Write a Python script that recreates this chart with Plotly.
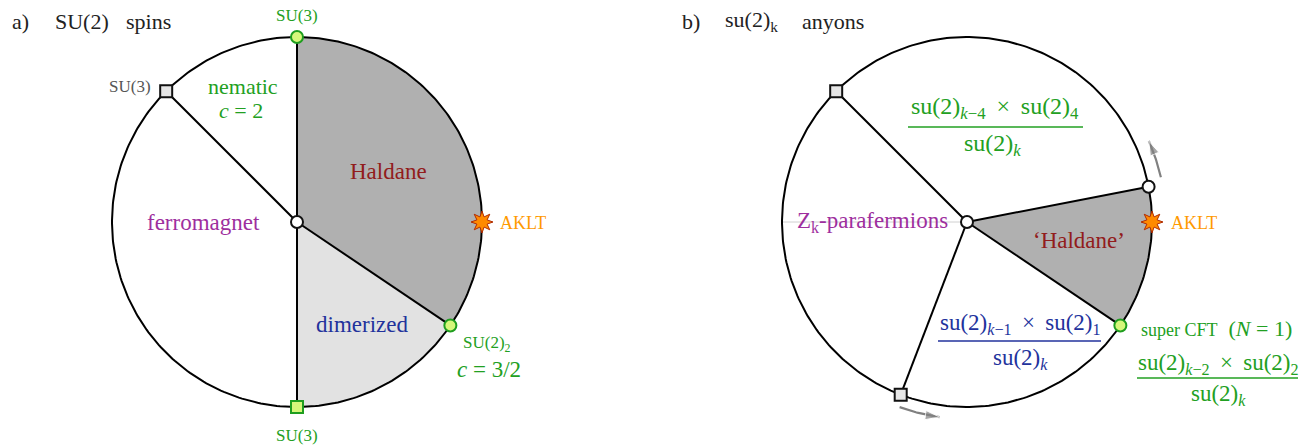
import numpy as np
import plotly.graph_objects as go

# ---------------- data ----------------
W, H = 1307, 445
R = 185
centers = {"a": (297, 222), "b": (967, 222)}

# panel a: phase-boundary directions (deg, counter-clockwise from +x)
a_rays = [90, 135, -90, -34]
a_haldane = (90, -34)
a_dimer = (-34, -90)
a_nodes_ang = [90, 135, -90, -34]
a_nodes_sym = ["circle", "square", "square", "circle"]
a_nodes_fill = ["#d6f77a", "#e6e6e6", "#d6f77a", "#d6f77a"]
a_nodes_line = ["#1f9e1f", "#111111", "#1f9e1f", "#1f9e1f"]
a_aklt = 0

# panel b
b_rays = [135, 11, -34, -111]
b_faint_ray = 180
b_haldane = (11, -34)
b_nodes_ang = [135, 11, -34, -111]
b_nodes_sym = ["square", "circle", "circle", "square"]
b_nodes_fill = ["#e6e6e6", "#ffffff", "#d6f77a", "#e6e6e6"]
b_nodes_line = ["#111111", "#111111", "#1f9e1f", "#111111"]
b_aklt = 0
b_arrows = [(199, 13, 24), (197, -110, -98)]  # (radius, start deg, end deg)

GREEN = "#22a022"
RED = "#921c1c"
PURPLE = "#9e2f9e"
BLUE = "#22329c"
ORANGE = "#ff9a00"
FONT = "Liberation Serif"
SP = "\u2009"  # thin space
NB = "\u00a0"


def pt(c, r, a):
    t = np.deg2rad(a)
    return c[0] + r * np.cos(t), c[1] - r * np.sin(t)


def arc(c, r, a0, a1, n=120):
    t = np.linspace(a0, a1, n)
    x, y = pt(c, r, t)
    return list(x), list(y)


fig = go.Figure()


def sector(c, a0, a1, color):
    x, y = arc(c, R, a0, a1)
    fig.add_trace(go.Scatter(x=[c[0]] + x + [c[0]], y=[c[1]] + y + [c[1]],
                             fill="toself", fillcolor=color, mode="none",
                             hoverinfo="skip", showlegend=False))


def line(xs, ys, color="#000000", width=2):
    fig.add_trace(go.Scatter(x=xs, y=ys, mode="lines",
                             line=dict(color=color, width=width),
                             hoverinfo="skip", showlegend=False))


def star(c, ang):
    px, py = pt(c, R, ang)
    k = np.arange(17)
    rr = np.where(k % 2 == 0, 11, 5.5)
    t = np.deg2rad(k * 22.5 + 90)
    fig.add_trace(go.Scatter(x=px + rr * np.cos(t), y=py - rr * np.sin(t),
                             fill="toself", fillcolor="#ff8a00", mode="lines",
                             line=dict(color="#b02a00", width=1),
                             hoverinfo="skip", showlegend=False))


def nodes(c, angs, syms, fills, lines):
    xs, ys = pt(c, R, np.array(angs, dtype=float))
    fig.add_trace(go.Scatter(x=list(xs) + [c[0]], y=list(ys) + [c[1]], mode="markers",
                             marker=dict(symbol=syms + ["circle"], size=12,
                                         color=fills + ["#ffffff"],
                                         line=dict(color=lines + ["#111111"], width=2)),
                             hoverinfo="skip", showlegend=False))


# ---- panel a ----
ca = centers["a"]
sector(ca, *a_haldane, "#b0b0b0")
sector(ca, *a_dimer, "#e2e2e2")
x, y = arc(ca, R, 0, 360, 360)
line(x, y)
for a in a_rays:
    px, py = pt(ca, R, a)
    line([ca[0], px], [ca[1], py])
star(ca, a_aklt)
nodes(ca, a_nodes_ang, a_nodes_sym, a_nodes_fill, a_nodes_line)

# ---- panel b ----
cb = centers["b"]
sector(cb, *b_haldane, "#b0b0b0")
px, py = pt(cb, R, b_faint_ray)
line([cb[0], px], [cb[1], py], color="#d0d0d0", width=1)
x, y = arc(cb, R, 0, 360, 360)
line(x, y)
for a in b_rays:
    px, py = pt(cb, R, a)
    line([cb[0], px], [cb[1], py])
star(cb, b_aklt)
for r, a0, a1 in b_arrows:
    x, y = arc(cb, r, a0, a1, 30)
    fig.add_trace(go.Scatter(x=x, y=y, mode="lines+markers",
                             line=dict(color="#808080", width=2.2),
                             marker=dict(symbol="arrow", angleref="previous",
                                         size=[0] * 29 + [15], color="#808080"),
                             hoverinfo="skip", showlegend=False))
nodes(cb, b_nodes_ang, b_nodes_sym, b_nodes_fill, b_nodes_line)

# fraction bars
for x0, x1, yy, col in [(908, 1083, 127, GREEN), (938, 1101, 341, BLUE), (1137, 1298, 378, GREEN)]:
    line([x0, x1], [yy, yy], color=col, width=1.5)

# ---------------- text ----------------
def txt(x, y, s, size, color, xanchor="center"):
    fig.add_annotation(x=x, y=y, text=s, showarrow=False, xanchor=xanchor, yanchor="middle",
                       font=dict(family=FONT, size=size, color=color))


TC = "#222222"
txt(10, 21, "a)", 22, TC, "left")
txt(53, 21, "SU(2)", 22, TC, "left")
txt(124, 21, "spins", 22, TC, "left")
txt(680, 21, "b)", 22, TC, "left")
txt(723, 21, "su(2)<sub>k</sub>", 22, TC, "left")
txt(800, 21, "anyons", 22, TC, "left")

txt(297, 15, "SU(3)", 17, GREEN)
txt(153, 86, "SU(3)", 17, "#555555", "right")
txt(243, 86, "nematic", 22, GREEN)
txt(241, 110, f"<i>c</i>{NB}={NB}2", 22, GREEN)
txt(388, 171, "Haldane", 23, RED)
txt(203, 222, "ferromagnet", 23, PURPLE)
txt(498, 223, "AKLT", 18, ORANGE, "left")
txt(362, 324, "dimerized", 23, BLUE)
txt(461, 344, "SU(2)<sub>2</sub>", 17, GREEN, "left")
txt(489, 369, f"<i>c</i>{NB}={NB}3/2", 23, GREEN)
txt(297, 435, "SU(3)", 17, GREEN)

mul = f"{NB}{SP}×{SP}{NB}"
txt(995, 108, f"su(2)<sub><i>k</i>−4</sub>{mul}su(2)<sub>4</sub>", 24, GREEN)
txt(992, 145, "su(2)<sub><i>k</i></sub>", 24, GREEN)
txt(872, 222, "Z<sub>k</sub>-parafermions", 23, PURPLE)
txt(1079, 240, "‘Haldane’", 23, RED)
txt(1169, 223, "AKLT", 18, ORANGE, "left")
txt(1020, 324, f"su(2)<sub><i>k</i>−1</sub>{mul}su(2)<sub>1</sub>", 23, BLUE)
txt(1020, 359, "su(2)<sub><i>k</i></sub>", 23, BLUE)
txt(1139, 328, f"<span style='font-size:18px'>super CFT</span>{NB}{NB}(<i>N</i>{NB}={NB}1)", 22, GREEN, "left")
txt(1218, 364, f"su(2)<sub><i>k</i>−2</sub>{mul}su(2)<sub>2</sub>", 23, GREEN)
txt(1218, 395, "su(2)<sub><i>k</i></sub>", 23, GREEN)

fig.update_layout(width=W, height=H, margin=dict(l=0, r=0, t=0, b=0),
                  paper_bgcolor="white", plot_bgcolor="white", showlegend=False,
                  xaxis=dict(range=[0, W], visible=False, fixedrange=True),
                  yaxis=dict(range=[H, 0], visible=False, fixedrange=True))
fig.write_html("out.html", config={"displayModeBar": False},
               post_script="document.body.style.margin='0';document.body.style.overflow='hidden';")
